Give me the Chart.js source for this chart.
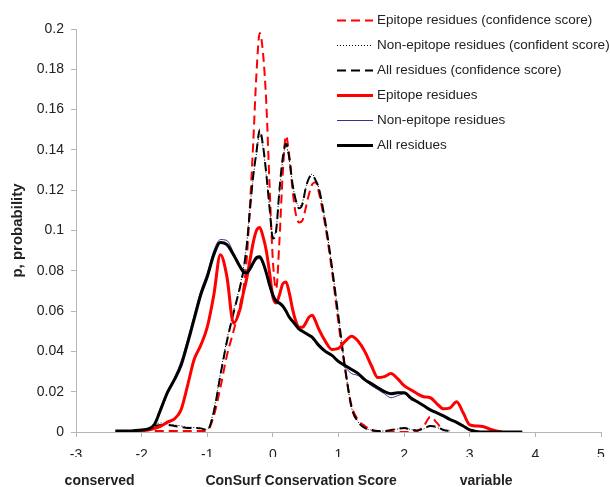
<!DOCTYPE html>
<html>
<head>
<meta charset="utf-8">
<script src="https://cdn.jsdelivr.net/npm/chart.js@4.4.0/dist/chart.umd.min.js"></script>
<style>
    html, body { margin: 0; padding: 0; background: #fff; }
    #wrap { width: 610px; height: 487px; }
</style>
</head>
<body>
<div id="wrap"><canvas id="series_conservation" width="610" height="487"></canvas></div>
<script>
// ConSurf score grid (denser round the peaks)
const scores = [
    -2.4, -2.3, -2.2, -2.1, -2.0, -1.9, -1.8, -1.7, -1.6, -1.5, -1.4, -1.3, -1.2, -1.1, -1.0, -0.9, -0.8, -0.7, -0.6, -0.5,
    -0.45, -0.4, -0.35, -0.3, -0.25, -0.2, -0.15, -0.1, -0.05, 0, 0.05, 0.1, 0.15, 0.2, 0.25, 0.3, 0.35, 0.4, 0.45, 0.5, 0.55, 0.6, 0.65, 0.7,
    0.8, 0.9, 1.0, 1.1, 1.2, 1.3, 1.4, 1.5, 1.6, 1.7, 1.8, 1.9, 2.0, 2.1, 2.2, 2.3, 2.4, 2.5, 2.6, 2.7, 2.8, 2.9, 3.0, 3.1, 3.2, 3.3, 3.4, 3.5, 3.6, 3.7, 3.8
];

const epitopeConfidence = [
    null, null, null, null, null, null, 0.0005, 0.0005, 0.0005, 0.0005, 0.0005, 0.0005, 0.0005, 0.0005, 0.0008, 0.008, 0.022, 0.038, 0.05, 0.063,
    0.071, 0.085, 0.112, 0.143, 0.178, 0.198, 0.188, 0.163, 0.122, 0.085, 0.071, 0.095, 0.128, 0.147, 0.137, 0.12, 0.108, 0.104, 0.105, 0.111, 0.118, 0.123, 0.124, 0.119,
    0.102, 0.08, 0.054, 0.031, 0.013, 0.006, 0.003, 0.001, 0, 0, 0, 0, 0, 0, 0.0005, 0.003, 0.0075, 0.0045, 0.0005, null, null, null, null, null, null, null, null, null, null, null, null
];

const nonEpitopeConfidence = [
    null, null, null, null, null, null, 0.004, 0.0045, 0.004, 0.0035, 0.003, 0.0025, 0.0022, 0.002, 0.0012, 0.011, 0.029, 0.046, 0.06, 0.073,
    0.081, 0.093, 0.111, 0.126, 0.138, 0.148, 0.141, 0.127, 0.111, 0.097, 0.101, 0.119, 0.135, 0.142, 0.135, 0.123, 0.115, 0.112, 0.114, 0.121, 0.126, 0.128, 0.125, 0.121,
    0.104, 0.082, 0.057, 0.032, 0.012, 0.005, 0.002, 0.001, 0.0005, 0.0005, 0.001, 0.0015, 0.0022, 0.0012, 0.0008, 0.0015, 0.0028, 0.0022, 0.001, 0.0005, null, null, null, null, null, null, null, null, null, null, null
];

const allConfidence = [
    null, null, null, null, null, null, 0.003, 0.0035, 0.0035, 0.003, 0.0025, 0.002, 0.002, 0.0018, 0.001, 0.01, 0.028, 0.045, 0.059, 0.072,
    0.08, 0.092, 0.11, 0.127, 0.139, 0.15, 0.142, 0.128, 0.111, 0.096, 0.1, 0.12, 0.136, 0.143, 0.136, 0.123, 0.115, 0.111, 0.113, 0.121, 0.126, 0.1275, 0.125, 0.121,
    0.104, 0.082, 0.057, 0.032, 0.012, 0.005, 0.002, 0.001, 0.0005, 0.0005, 0.001, 0.0015, 0.002, 0.0012, 0.0008, 0.0018, 0.003, 0.0025, 0.001, 0.0005, null, null, null, null, null, null, null, null, null, null, null
];

const epitope = [
    null, null, 0, 0.0003, 0.0006, 0.001, 0.0018, 0.003, 0.005, 0.0065, 0.011, 0.023, 0.036, 0.043, 0.052, 0.068, 0.088, 0.077, 0.054, 0.061,
    0.069, 0.076, 0.085, 0.094, 0.1, 0.1015, 0.097, 0.09, 0.079, 0.067, 0.064, 0.068, 0.0735, 0.0745, 0.069, 0.061, 0.055, 0.052, 0.052, 0.054, 0.057, 0.058, 0.055, 0.051,
    0.045, 0.041, 0.0415, 0.045, 0.0475, 0.045, 0.04, 0.033, 0.027, 0.0275, 0.029, 0.0265, 0.023, 0.021, 0.019, 0.0175, 0.017, 0.014, 0.0115, 0.012, 0.015, 0.0095, 0.0035, 0.003, 0.0027, 0.0015, 0.0005, 0, null, null, null
];

const nonEpitope = [
    0.0005, 0.0005, 0.0005, 0.0007, 0.001, 0.0015, 0.0045, 0.013, 0.021, 0.027, 0.035, 0.046, 0.058, 0.07, 0.079, 0.09, 0.0955, 0.095, 0.089, 0.082,
    0.079, 0.0785, 0.08, 0.083, 0.0855, 0.086, 0.083, 0.078, 0.072, 0.067, 0.064, 0.0635, 0.062, 0.0595, 0.057, 0.055, 0.053, 0.051, 0.05, 0.049, 0.048, 0.047, 0.045, 0.043,
    0.04, 0.038, 0.035, 0.032, 0.029, 0.028, 0.0255, 0.023, 0.021, 0.019, 0.017, 0.018, 0.019, 0.016, 0.015, 0.013, 0.011, 0.0095, 0.008, 0.0062, 0.0048, 0.003, 0.001, 0.0003, 0, 0, 0, 0, 0, 0, 0
];

const allResidues = [
    0.0005, 0.0005, 0.0005, 0.0007, 0.001, 0.0015, 0.004, 0.012, 0.02, 0.026, 0.033, 0.044, 0.056, 0.068, 0.077, 0.088, 0.094, 0.093, 0.088, 0.082,
    0.0795, 0.079, 0.081, 0.084, 0.0865, 0.087, 0.084, 0.079, 0.073, 0.068, 0.065, 0.064, 0.0625, 0.06, 0.057, 0.055, 0.053, 0.051, 0.05, 0.049, 0.048, 0.047, 0.045, 0.043,
    0.04, 0.038, 0.035, 0.033, 0.031, 0.029, 0.026, 0.024, 0.022, 0.02, 0.019, 0.0195, 0.0195, 0.017, 0.015, 0.013, 0.011, 0.0095, 0.008, 0.0062, 0.0048, 0.003, 0.001, 0.0003, 0, 0, 0, 0, 0, 0, 0
];

const seriesNames = [
    'Epitope residues (confidence score)',
    'Non-epitope residues (confident score)',
    'All residues (confidence score)',
    'Epitope residues',
    'Non-epitope residues',
    'All residues'
];

const yTickValues = [0, 0.02, 0.04, 0.06, 0.08, 0.1, 0.12, 0.14, 0.16, 0.18, 0.2];
const yTickLabels = ['0', '0.02', '0.04', '0.06', '0.08', '0.1', '0.12', '0.14', '0.16', '0.18', '0.2'];
const xTickValues = [-3, -2, -1, 0, 1, 2, 3, 4, 5];
const xTickLabels = ['-3', '-2', '-1', '0', '1', '2', '3', '4', '5'];

const axisLabels = ['conserved', 'ConSurf Conservation Score', 'variable'];

(function(){

    const FONT = 'Arial, "Liberation Sans", sans-serif';
    const TEXT = '#222';
    const AXIS = '#b5b5b5';

    function points(values) {
        return scores.map((x, i) => ({x: x, y: values[i]}));
    }

    function line(label, values, colour, width, dash, order) {
        return {
            label: label,
            data: points(values),
            borderColor: colour,
            backgroundColor: colour,
            borderWidth: width,
            borderDash: dash,
            pointRadius: 0,
            pointHoverRadius: 0,
            cubicInterpolationMode: 'monotone',
            fill: false,
            order: order
        };
    }

    // legend sits inside the plot, top right
    const insideLegend = {
        id: 'insideLegend',
        afterDraw(chart) {
            const ctx = chart.ctx;
            ctx.save();
            ctx.font = '13.5px ' + FONT;
            ctx.textBaseline = 'middle';
            ctx.textAlign = 'left';
            chart.data.datasets.forEach((ds, i) => {
                const y = 20.5 + i * 25;
                ctx.beginPath();
                ctx.strokeStyle = ds.borderColor;
                ctx.lineWidth = ds.borderWidth;
                ctx.setLineDash(ds.borderDash);
                ctx.moveTo(337, y);
                ctx.lineTo(373, y);
                ctx.stroke();
                ctx.setLineDash([]);
                ctx.fillStyle = TEXT;
                ctx.fillText(ds.label, 377, y);
            });
            ctx.restore();
        }
    };

    // the three captions under the x axis
    const bottomCaptions = {
        id: 'bottomCaptions',
        afterDraw(chart) {
            const ctx = chart.ctx;
            const x = chart.scales.x;
            const at = [-2.64, 0.43, 3.25];
            ctx.save();
            ctx.font = 'bold 14px ' + FONT;
            ctx.fillStyle = TEXT;
            ctx.textAlign = 'center';
            ctx.textBaseline = 'alphabetic';
            axisLabels.forEach((text, i) => {
                ctx.fillText(text, x.getPixelForValue(at[i]), 485);
            });
            ctx.restore();
        }
    };

    function renderConservationChart() {
        const canvas = document.getElementById('series_conservation').getContext('2d');
        const myChart = new Chart(canvas, {
            type: 'line',
            data: {
                datasets: [
                    line(seriesNames[0], epitopeConfidence, '#ff0000', 2, [9, 5], 6),
                    line(seriesNames[1], nonEpitopeConfidence, '#000000', 1, [1, 2], 5),
                    line(seriesNames[2], allConfidence, '#000000', 2, [9, 5], 4),
                    line(seriesNames[3], epitope, '#ff0000', 3, [], 3),
                    line(seriesNames[4], nonEpitope, '#33338f', 1, [], 2),
                    line(seriesNames[5], allResidues, '#000000', 3, [], 1)
                ]
            },
            plugins: [insideLegend, bottomCaptions],
            options: {
                responsive: false,
                animation: false,
                layout: {
                    padding: {left: 0, top: 29, right: 9, bottom: 30}
                },
                plugins: {
                    legend: {display: false},
                    tooltip: {enabled: false}
                },
                scales: {
                    x: {
                        type: 'linear',
                        min: -3,
                        max: 5,
                        afterBuildTicks: (scale) => {
                            scale.ticks = xTickValues.map((v) => ({value: v}));
                        },
                        afterFit: (scale) => {
                            scale.height = 25;
                            scale.paddingLeft = 0;
                            scale.paddingRight = 0;
                        },
                        grid: {
                            display: true,
                            drawOnChartArea: false,
                            drawTicks: true,
                            tickLength: 5,
                            color: AXIS
                        },
                        border: {display: true, color: AXIS, width: 1},
                        ticks: {
                            padding: 10,
                            color: TEXT,
                            font: {family: FONT, size: 14},
                            maxRotation: 0,
                            callback: function(value, index) {
                                return xTickLabels[index];
                            }
                        }
                    },
                    y: {
                        min: 0,
                        max: 0.2,
                        afterBuildTicks: (scale) => {
                            scale.ticks = yTickValues.map((v) => ({value: v}));
                        },
                        afterFit: (scale) => {
                            scale.width = 76;
                        },
                        grid: {
                            display: true,
                            drawOnChartArea: false,
                            drawTicks: true,
                            tickLength: 5,
                            color: AXIS
                        },
                        border: {display: true, color: AXIS, width: 1},
                        title: {
                            display: true,
                            text: 'p, probability',
                            color: TEXT,
                            font: {family: FONT, size: 15, weight: 'bold'},
                            padding: {top: 9, bottom: 0}
                        },
                        ticks: {
                            padding: 7,
                            color: TEXT,
                            font: {family: FONT, size: 14},
                            callback: function(value, index) {
                                return yTickLabels[index];
                            }
                        }
                    }
                }
            }
        });
    }

    renderConservationChart();
})();
</script>
</body>
</html>
